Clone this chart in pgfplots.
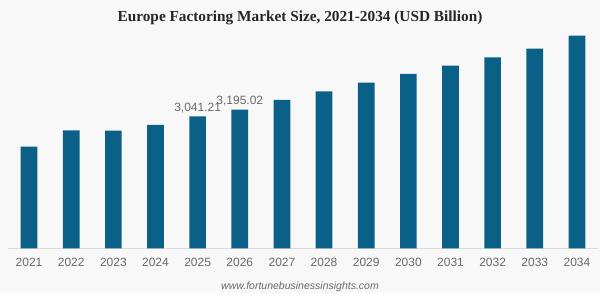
\documentclass[border=0pt]{standalone}
\usepackage{fontspec}
\usepackage{pgfplots}
\pgfplotsset{compat=1.18}
\newfontfamily\arialf{Liberation Sans}
\newfontfamily\serifb{Liberation Serif}
\definecolor{barcol}{RGB}{11,96,136}
\definecolor{bgcol}{RGB}{248,248,248}
\definecolor{txtgray}{RGB}{105,105,105}
\definecolor{linegray}{RGB}{217,217,217}
\begin{document}
\begin{tikzpicture}
\fill[bgcol] (0pt,0pt) rectangle (600pt,293pt);
\begin{axis}[
  at={(8pt,44.5pt)}, anchor=south west,
  scale only axis, width=590pt, height=218.5pt,
  xmin=-0.5, xmax=13.5, ymin=0, ymax=5025,
  axis x line*=bottom, axis y line=none,
  x axis line style={linegray, line width=0.8pt},
  xtick={0,...,13},
  xticklabels={2021,2022,2023,2024,2025,2026,2027,2028,2029,2030,2031,2032,2033,2034},
  major tick length=0pt,
  xticklabel style={font=\arialf\fontsize{12}{14}\selectfont, text=txtgray, yshift=-6pt},
  ybar, bar width=16.7pt,
  clip=false,
]
\addplot[fill=barcol, draw=none,
  nodes near coords, point meta=explicit symbolic,
  nodes near coords style={font=\arialf\fontsize{12}{14}\selectfont, text=txtgray, anchor=south, inner sep=1pt, yshift=2pt}]
coordinates {
 (0,2341) [{}]
 (1,2719) [{}]
 (2,2709) [{}]
 (3,2841) [{}]
 (4,3041.21) [{3,041.21}]
 (5,3195.02) [{3,195.02}]
 (6,3416) [{}]
 (7,3616) [{}]
 (8,3813) [{}]
 (9,4014) [{}]
 (10,4204) [{}]
 (11,4398) [{}]
 (12,4595) [{}]
 (13,4894) [{}]
};
\end{axis}
\node[font=\serifb\bfseries\fontsize{15.3}{18}\selectfont, text=black!85] at (300pt,275.5pt) {Europe Factoring Market Size, 2021-2034 (USD Billion)};
\node[font=\arialf\itshape\fontsize{10.5}{12}\selectfont, text=txtgray] at (300pt,6pt) {www.fortunebusinessinsights.com};
\end{tikzpicture}
\end{document}
